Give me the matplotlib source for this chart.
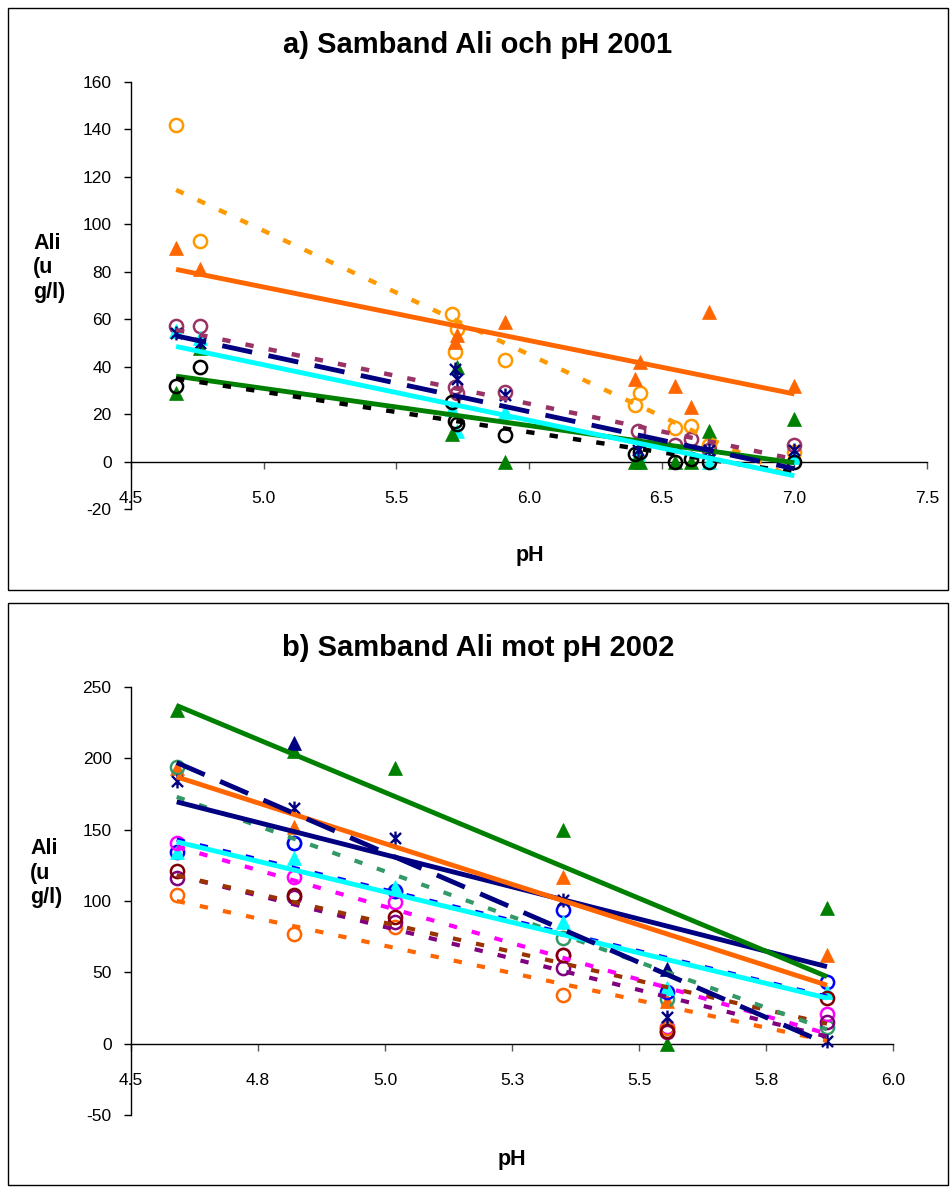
import matplotlib.pyplot as plt
from matplotlib.patches import Rectangle
from matplotlib.path import Path

plt.rcParams['font.family'] = ['Liberation Sans', 'DejaVu Sans']
plt.rcParams['lines.scale_dashes'] = False
plt.rcParams['axes.unicode_minus'] = False

W, H = 952, 1187

# ---------------- a) Samband Ali och pH 2001 ----------------
a_ticks_x = [4.5, 5.0, 5.5, 6.0, 6.5, 7.0, 7.5]
a_ticklabels_x = ["4.5", "5.0", "5.5", "6.0", "6.5", "7.0", "7.5"]
a_ticks_y = [-20, 0, 20, 40, 60, 80, 100, 120, 140, 160]

a_orange_circ_ph = [4.67, 4.76, 5.71, 5.73, 5.72, 5.91, 6.40, 6.42, 6.55, 6.61, 6.68, 7.00]
a_orange_circ_ali = [142, 93, 62, 56, 46, 43, 24, 29, 14, 15, 7, 4]
a_orange_tri_ph = [4.67, 4.76, 5.72, 5.73, 5.91, 6.40, 6.42, 6.55, 6.61, 6.68, 7.00]
a_orange_tri_ali = [90, 81, 50.5, 53.5, 59, 35, 42, 32, 23, 63, 32]
a_mauve_circ_ph = [4.67, 4.76, 5.72, 5.73, 5.91, 6.41, 6.55, 6.61, 6.68, 7.00]
a_mauve_circ_ali = [57, 57, 31.5, 29, 29.5, 13, 7, 9.5, 5, 7]
a_navy_star_ph = [4.67, 4.76, 5.72, 5.73, 5.91, 6.41, 6.68, 7.00]
a_navy_star_ali = [54, 50, 39, 35, 28, 5, 5, 5]
a_cyan_tri_ph = [4.67, 4.76, 5.71, 5.73, 5.91, 6.41, 6.68, 7.00]
a_cyan_tri_ali = [55, 52, 22, 13, 21, 3, 0, 2]
a_green_tri_ph = [4.67, 4.76, 5.71, 5.73, 5.91, 6.40, 6.42, 6.55, 6.61, 6.68, 7.00]
a_green_tri_ali = [29, 48, 11.5, 40, 0, 0, 0, 0, 0, 13, 18]
a_black_circ_ph = [4.67, 4.76, 5.71, 5.72, 5.73, 5.91, 6.40, 6.42, 6.55, 6.61, 6.68, 7.00]
a_black_circ_ali = [32, 40, 25, 17, 16, 11, 3, 4, 0, 1, 0, 0]

# trendline end values at pH 4.67 and 7.00
a_trend_ph = [4.67, 7.00]
a_trend_orange_circ = [114.5, -7]
a_trend_orange_tri = [81, 28.5]
a_trend_mauve_circ = [55.5, 1]
a_trend_navy_star = [53, -3]
a_trend_cyan_tri = [48.5, -6]
a_trend_green_tri = [36, -0.5]
a_trend_black_circ = [35, -4.6]

# ---------------- b) Samband Ali mot pH 2002 ----------------
b_ticks_x = [4.5, 4.75, 5.0, 5.25, 5.5, 5.75, 6.0]
b_ticklabels_x = ["4.5", "4.8", "5.0", "5.3", "5.5", "5.8", "6.0"]
b_ticks_y = [-50, 0, 50, 100, 150, 200, 250]

b_ph = [4.59, 4.82, 5.02, 5.35, 5.555, 5.87]
b_green_tri_ali = [234, 205, 193, 150, 0, 95]
b_navy_tri_ph = [4.82, 5.555]
b_navy_tri_ali = [211, 52]
b_navy_star_ali = [184, 165, 144, 101, 19, 2]
b_orange_tri_ph = [4.59, 4.82, 5.35, 5.555, 5.87]
b_orange_tri_ali = [193, 152, 117, 30, 62]
b_seagreen_circ_ali = [194, 141, 107, 74, 31, 12]
b_blue_circ_ali = [134, 141, 107, 94, 36, 43]
b_cyan_tri_ali = [134, 130, 110, 85, 39, 36]
b_magenta_circ_ali = [141, 117, 99, 62, 12, 21]
b_darkred_circ_ali = [121, 104, 89, 62, 9, 32]
b_purple_circ_ali = [116, 103, 85, 53, 8, 15]
b_orange_circ_ph = [4.59, 4.82, 5.02, 5.35, 5.555]
b_orange_circ_ali = [104, 77, 82, 34, 11]

# trendline end values at pH 4.59 and 5.87
b_trend_ph = [4.59, 5.87]
b_trend_green_tri = [237, 47]
b_trend_navy_tri = [169.5, 54]
b_trend_navy_star = [197, 0]
b_trend_orange_tri = [187, 41]
b_trend_seagreen_circ = [173, 10]
b_trend_blue_circ = [143, 33]
b_trend_cyan_tri = [141.5, 32]
b_trend_magenta_circ = [138, 7]
b_trend_darkred_circ = [118, 14]
b_trend_purple_circ = [118, 5]
b_trend_orange_circ = [100, 2]

STAR = Path([(-1, -1), (1, 1), (-1, 1), (1, -1), (0, -1.25), (0, 1.25)],
            [Path.MOVETO, Path.LINETO, Path.MOVETO, Path.LINETO, Path.MOVETO, Path.LINETO])

SHORT = (6, 11)
LONG = (22, 12)


def px_axes(fig, left, top, right, bottom):
    return fig.add_axes((left / W, 1 - bottom / H, (right - left) / W, (bottom - top) / H))


def style_axes(ax, xlim, ylim, xticks, xlabels, yticks):
    ax.set_xlim(*xlim)
    ax.set_ylim(*ylim)
    ax.spines['top'].set_visible(False)
    ax.spines['right'].set_visible(False)
    ax.spines['bottom'].set_position(('data', 0))
    for s in ('left', 'bottom'):
        ax.spines[s].set_linewidth(1.0)
        ax.spines[s].set_color('black')
    ax.set_xticks(xticks)
    ax.set_xticklabels(xlabels)
    ax.set_yticks(yticks)
    ax.tick_params(axis='x', direction='out', length=5, width=1, pad=16, labelsize=12.5,
                   color='#555555')
    ax.tick_params(axis='y', direction='out', length=5, width=1, pad=9, labelsize=12.5)
    ax.patch.set_alpha(0)


def scatter(ax, x, y, marker, color, filled, size):
    if marker is STAR:
        ax.plot(x, y, linestyle='none', marker=STAR, markersize=size, markerfacecolor='none',
                markeredgecolor=color, markeredgewidth=1.7, zorder=3, clip_on=False)
    elif filled:
        ax.plot(x, y, linestyle='none', marker=marker, markersize=size, markerfacecolor=color,
                markeredgecolor=color, markeredgewidth=0.5, zorder=3, clip_on=False)
    else:
        ax.plot(x, y, linestyle='none', marker=marker, markersize=size, markerfacecolor='none',
                markeredgecolor=color, markeredgewidth=1.8, zorder=3, clip_on=False)


def trend(ax, x, y, color, dashes, lw):
    line, = ax.plot(x, y, color=color, linewidth=lw, zorder=4, solid_capstyle='butt',
                    dash_capstyle='butt')
    if dashes is not None:
        line.set_dashes(dashes)


fig = plt.figure(figsize=(W / 100, H / 100), dpi=100, facecolor='white')

for top, bottom in [(8, 590), (603, 1185)]:
    fig.add_artist(Rectangle((8 / W, 1 - bottom / H), (948 - 8) / W, (bottom - top) / H,
                             transform=fig.transFigure, fill=False, edgecolor='black',
                             linewidth=1.0))

# ---- chart a ----
ax = px_axes(fig, 131, 82, 927, 509)
style_axes(ax, (4.5, 7.5), (-20, 160), a_ticks_x, a_ticklabels_x, a_ticks_y)

scatter(ax, a_orange_circ_ph, a_orange_circ_ali, 'o', '#FF9900', False, 9.5)
scatter(ax, a_orange_tri_ph, a_orange_tri_ali, '^', '#FF6600', True, 10.5)
scatter(ax, a_mauve_circ_ph, a_mauve_circ_ali, 'o', '#993366', False, 9.5)
scatter(ax, a_cyan_tri_ph, a_cyan_tri_ali, '^', '#00FFFF', True, 10.5)
scatter(ax, a_green_tri_ph, a_green_tri_ali, '^', '#008000', True, 10.5)
scatter(ax, a_black_circ_ph, a_black_circ_ali, 'o', '#000000', False, 9.5)
scatter(ax, a_navy_star_ph, a_navy_star_ali, STAR, '#000080', False, 10)

trend(ax, a_trend_ph, a_trend_orange_circ, '#FF9900', SHORT, 3.2)
trend(ax, a_trend_ph, a_trend_orange_tri, '#FF6600', None, 3.5)
trend(ax, a_trend_ph, a_trend_mauve_circ, '#993366', SHORT, 3.2)
trend(ax, a_trend_ph, a_trend_green_tri, '#008000', None, 3.5)
trend(ax, a_trend_ph, a_trend_black_circ, '#000000', SHORT, 3.2)
trend(ax, a_trend_ph, a_trend_cyan_tri, '#00FFFF', None, 3.5)
trend(ax, a_trend_ph, a_trend_navy_star, '#000080', LONG, 3.5)

fig.text(478 / W, 1 - 45 / H, "a) Samband Ali och pH 2001", ha='center', va='center',
         fontsize=21, fontweight='bold')
fig.text(530 / W, 1 - 555 / H, "pH", ha='center', va='center', fontsize=15.5, fontweight='bold')
fig.text(33 / W, 1 - 268 / H, "Ali\n(u\ng/l)", ha='left', va='center', fontsize=15.5,
         fontweight='bold', linespacing=1.2)

# ---- chart b ----
ax = px_axes(fig, 131, 687, 893, 1115)
style_axes(ax, (4.5, 6.0), (-50, 250), b_ticks_x, b_ticklabels_x, b_ticks_y)

scatter(ax, b_ph, b_green_tri_ali, '^', '#008000', True, 10.5)
scatter(ax, b_navy_tri_ph, b_navy_tri_ali, '^', '#000080', True, 10.5)
scatter(ax, b_orange_tri_ph, b_orange_tri_ali, '^', '#FF6600', True, 10.5)
scatter(ax, b_ph, b_seagreen_circ_ali, 'o', '#339966', False, 9.5)
scatter(ax, b_ph, b_blue_circ_ali, 'o', '#0000FF', False, 9.5)
scatter(ax, b_ph, b_cyan_tri_ali, '^', '#00FFFF', True, 10.5)
scatter(ax, b_ph, b_magenta_circ_ali, 'o', '#FF00FF', False, 9.5)
scatter(ax, b_orange_circ_ph, b_orange_circ_ali, 'o', '#FF6600', False, 9.5)
scatter(ax, b_ph, b_purple_circ_ali, 'o', '#800080', False, 9.5)
scatter(ax, b_ph, b_darkred_circ_ali, 'o', '#800000', False, 9.5)
scatter(ax, b_ph, b_navy_star_ali, STAR, '#000080', False, 10)

trend(ax, b_trend_ph, b_trend_orange_circ, '#FF6600', SHORT, 3.0)
trend(ax, b_trend_ph, b_trend_purple_circ, '#800080', SHORT, 3.0)
trend(ax, b_trend_ph, b_trend_darkred_circ, '#993300', SHORT, 3.0)
trend(ax, b_trend_ph, b_trend_magenta_circ, '#FF00FF', SHORT, 3.0)
trend(ax, b_trend_ph, b_trend_blue_circ, '#0000FF', SHORT, 3.0)
trend(ax, b_trend_ph, b_trend_seagreen_circ, '#339966', SHORT, 3.0)
trend(ax, b_trend_ph, b_trend_cyan_tri, '#00FFFF', None, 3.5)
trend(ax, b_trend_ph, b_trend_navy_tri, '#000080', None, 3.5)
trend(ax, b_trend_ph, b_trend_orange_tri, '#FF6600', None, 3.5)
trend(ax, b_trend_ph, b_trend_green_tri, '#008000', None, 3.5)
trend(ax, b_trend_ph, b_trend_navy_star, '#000080', LONG, 3.5)

fig.text(478 / W, 1 - 648 / H, "b) Samband Ali mot pH 2002", ha='center', va='center',
         fontsize=21, fontweight='bold')
fig.text(512 / W, 1 - 1160 / H, "pH", ha='center', va='center', fontsize=15.5, fontweight='bold')
fig.text(30 / W, 1 - 873 / H, "Ali\n(u\ng/l)", ha='left', va='center', fontsize=15.5,
         fontweight='bold', linespacing=1.2)

fig.savefig("out.png", dpi=100, facecolor='white')
